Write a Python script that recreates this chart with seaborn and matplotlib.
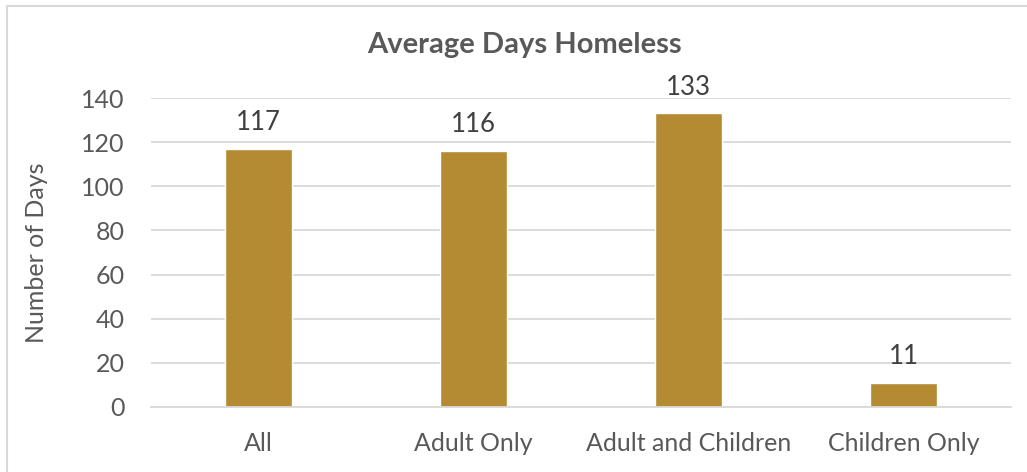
import seaborn as sns
import matplotlib.pyplot as plt
import pandas as pd
from matplotlib.patches import Rectangle

categories = ['All', 'Adult Only', 'Adult and Children', 'Children Only']
days = [117, 116, 133, 11]
yticks = [0, 20, 40, 60, 80, 100, 120, 140]

GOLD = '#B48A32'
GREY = '#595959'

sns.set_style('white')
plt.rcParams['font.family'] = ['Lato', 'DejaVu Sans']

df = pd.DataFrame({'group': categories, 'days': days})

fig = plt.figure(figsize=(10.27, 4.72), dpi=100)
ax = fig.add_axes([151/1027, 1-407/472, 860/1027, 309/472])
sns.barplot(data=df, x='group', y='days', color=GOLD, width=0.31, ax=ax, saturation=1)

ax.set_ylim(0, 140)
ax.set_yticks(yticks)
ax.set_xlim(-0.5, 3.5)
ax.yaxis.grid(True, color='#D9D9D9', linewidth=1.3)
ax.set_axisbelow(True)
for s in ['top', 'right', 'left']:
    ax.spines[s].set_visible(False)
ax.spines['bottom'].set_color('#D9D9D9')
ax.spines['bottom'].set_linewidth(1.3)
ax.tick_params(axis='both', length=0, labelsize=18, colors=GREY)
ax.tick_params(axis='y', pad=19)
ax.tick_params(axis='x', pad=18)
ax.set_xlabel('')
ax.set_ylabel('Number of Days', fontsize=18, color=GREY)
ax.yaxis.set_label_coords(-0.12, 0.5)

for i, v in enumerate(days):
    ax.annotate(str(v), (i, v), xytext=(0, 10), textcoords='offset points',
                ha='center', va='bottom', fontsize=18.5, color='#404040')

fig.text(524/1027, 1-45/472, 'Average Days Homeless', ha='center', va='center',
         fontsize=21, fontweight='bold', color=GREY)

fig.patches.append(Rectangle((7/1027, -0.1), 1.2, 1.1 - 6/472, transform=fig.transFigure,
                             fill=False, edgecolor='#D9D9D9', linewidth=1.5))

fig.savefig('out.png', dpi=100)
